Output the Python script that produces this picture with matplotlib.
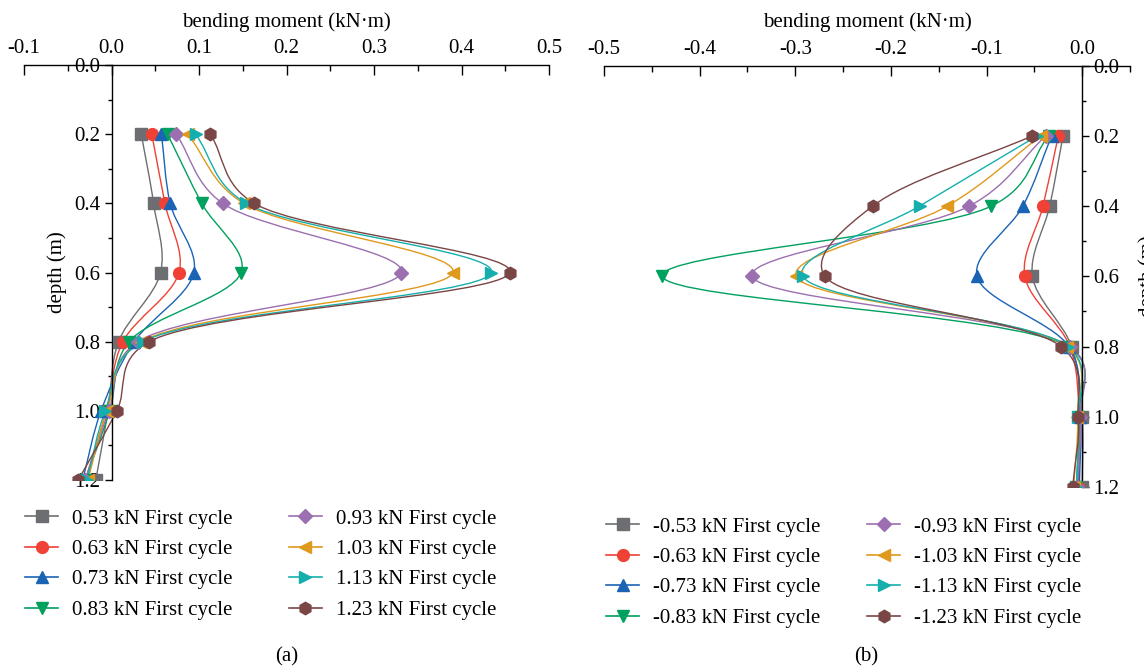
import numpy as np
import matplotlib
matplotlib.use("Agg")
import matplotlib.pyplot as plt
from matplotlib.path import Path
from matplotlib.patches import PathPatch
from matplotlib.lines import Line2D

plt.rcParams['font.family'] = ['Liberation Serif', 'DejaVu Serif']
plt.rcParams['axes.unicode_minus'] = False

# depth of the gauges (m)
depth = [0.2, 0.4, 0.6, 0.8, 1.0, 1.2]

# (a) positive loading, bending moment (kN*m)
pos_053 = [0.034, 0.048, 0.056, 0.008, -0.004, -0.018]
pos_063 = [0.046, 0.061, 0.077, 0.013, -0.006, -0.030]
pos_073 = [0.057, 0.067, 0.094, 0.026, -0.012, -0.033]
pos_083 = [0.064, 0.103, 0.148, 0.020, -0.002, -0.030]
pos_093 = [0.074, 0.127, 0.331, 0.030, -0.003, -0.030]
pos_103 = [0.087, 0.151, 0.390, 0.034, -0.005, -0.027]
pos_113 = [0.096, 0.154, 0.434, 0.036, -0.007, -0.028]
pos_123 = [0.113, 0.163, 0.455, 0.043, 0.006, -0.038]

# (b) negative loading
neg_053 = [-0.020, -0.034, -0.052, -0.011, 0.000, 0.000]
neg_063 = [-0.025, -0.041, -0.060, -0.013, -0.003, -0.004]
neg_073 = [-0.032, -0.062, -0.110, -0.014, -0.002, -0.003]
neg_083 = [-0.035, -0.095, -0.439, -0.015, -0.004, -0.006]
neg_093 = [-0.038, -0.118, -0.345, -0.013, -0.002, -0.005]
neg_103 = [-0.043, -0.141, -0.299, -0.016, -0.005, -0.009]
neg_113 = [-0.047, -0.170, -0.292, -0.015, -0.004, -0.006]
neg_123 = [-0.052, -0.219, -0.269, -0.022, -0.004, -0.010]

loads_pos = ["0.53", "0.63", "0.73", "0.83", "0.93", "1.03", "1.13", "1.23"]
loads_neg = ["-0.53", "-0.63", "-0.73", "-0.83", "-0.93", "-1.03", "-1.13", "-1.23"]

series_pos = [pos_053, pos_063, pos_073, pos_083, pos_093, pos_103, pos_113, pos_123]
series_neg = [neg_053, neg_063, neg_073, neg_083, neg_093, neg_103, neg_113, neg_123]

xticks_pos = [-0.1, 0.0, 0.1, 0.2, 0.3, 0.4, 0.5]
xticks_neg = [-0.5, -0.4, -0.3, -0.2, -0.1, 0.0]
yticks = [0.0, 0.2, 0.4, 0.6, 0.8, 1.0, 1.2]

colors = ['#6d6e71', '#ef4136', '#1a63b5', '#00a05e', '#9b6fb0', '#df991c', '#14afac', '#7a4545']
markers = ['s', 'o', '^', 'v', 'D', '<', '>', 'h']
msizes = [8, 8.5, 9, 9, 7.5, 9, 9, 9]

FS = 15
W, H = 11.44, 6.69


def smooth_path(x, y, sx, sy, alpha=0.3):
    # catmull-rom curve (screen space) through the points, as bezier segments
    P = np.column_stack([np.asarray(x, float) * sx, np.asarray(y, float) * sy])
    n = len(P) - 1
    d = np.linalg.norm(np.diff(P, axis=0), axis=1) ** alpha
    D = np.zeros_like(P)
    for i in range(1, n):
        D[i] = ((P[i] - P[i - 1]) / d[i - 1]
                - (P[i + 1] - P[i - 1]) / (d[i - 1] + d[i])
                + (P[i + 1] - P[i]) / d[i])
    D[0] = (P[1] - P[0]) / d[0]
    D[n] = (P[n] - P[n - 1]) / d[n - 1]
    verts = [P[0]]
    codes = [Path.MOVETO]
    for i in range(n):
        verts += [P[i] + D[i] * d[i] / 3, P[i + 1] - D[i + 1] * d[i] / 3, P[i + 1]]
        codes += [Path.CURVE4] * 3
    verts = np.array(verts) / [sx, sy]
    return Path(verts, codes)


def draw_panel(ax, series, xticks, xlim, yside):
    pos = ax.get_position()
    sx = pos.width * W * 100 / (xlim[1] - xlim[0])
    sy = pos.height * H * 100 / 1.2
    for vals, c in zip(series, colors):
        ax.add_patch(PathPatch(smooth_path(vals, depth, sx, sy), facecolor='none',
                               edgecolor=c, lw=1.0, zorder=2))
    for vals, c, m, ms in zip(series, colors, markers, msizes):
        ax.plot(vals, depth, ls='none', marker=m, ms=ms, color=c, mec=c, zorder=3)
    for sp in ['bottom', 'right', 'left']:
        ax.spines[sp].set_visible(False)
    ax.spines[yside].set_visible(True)
    ax.spines[yside].set_position(('data', 0))
    for sp in ax.spines.values():
        sp.set_linewidth(1.0)
    ax.xaxis.tick_top()
    ax.xaxis.set_label_position('top')
    ax.set_xlabel('bending moment (kN\u00b7m)', fontsize=FS, labelpad=9)
    ax.set_xticks(xticks)
    ax.set_xticks(np.arange(xlim[0], xlim[1] + 1e-6, 0.05), minor=True)
    ax.xaxis.set_major_formatter(plt.FormatStrFormatter('%.1f'))
    ax.tick_params(axis='x', which='major', direction='in', length=7, width=1,
                   labelsize=FS, pad=5)
    ax.tick_params(axis='x', which='minor', direction='in', length=4, width=1)
    ax.set_yticks(yticks)
    ax.set_yticks([0.1, 0.3, 0.5, 0.7, 0.9, 1.1], minor=True)
    ax.yaxis.set_major_formatter(plt.FormatStrFormatter('%.1f'))
    if yside == 'right':
        ax.yaxis.tick_right()
        ax.yaxis.set_label_position('right')
    else:
        ax.yaxis.tick_left()
    ax.tick_params(axis='y', which='major', direction='out', length=5, width=1,
                   labelsize=FS, pad=3)
    ax.tick_params(axis='y', which='minor', direction='out', length=3, width=1)
    ax.set_ylabel('depth (m)', fontsize=FS)
    ax.set_xlim(*xlim)
    ax.set_ylim(1.2, 0)


fig = plt.figure(figsize=(W, H), dpi=100)
ax1 = fig.add_axes([0.021, 0.2825, 0.459, 0.6203])
ax2 = fig.add_axes([0.528, 0.2720, 0.4598, 0.6300])

draw_panel(ax1, series_pos, xticks_pos, (-0.1, 0.5), 'left')
draw_panel(ax2, series_neg, xticks_neg, (-0.5, 0.05), 'right')
ax1.yaxis.set_label_coords(0.081, 0.5)
ax2.yaxis.set_label_coords(1.015, 0.5)


def make_legend(ax, loads, anchor, colsp):
    handles = [Line2D([], [], color=c, marker=m, ms=ms, lw=1.2)
               for c, m, ms in zip(colors, markers, msizes)]
    names = [f"{v} kN First cycle" for v in loads]
    ax.legend(handles, names, loc='upper left', bbox_to_anchor=anchor,
              bbox_transform=fig.transFigure, ncol=2, frameon=False,
              fontsize=FS, handlelength=1.6, handletextpad=0.65,
              columnspacing=colsp, labelspacing=0.52, borderaxespad=0, borderpad=0)


make_legend(ax1, loads_pos, (25 / 1144, 1 - 509 / 669), 2.7)
make_legend(ax2, loads_neg, (606 / 1144, 1 - 517 / 669), 2.25)

fig.text(287 / 1144, 1 - 657 / 669, '(a)', ha='center', va='center', fontsize=FS)
fig.text(866 / 1144, 1 - 657 / 669, '(b)', ha='center', va='center', fontsize=FS)

fig.savefig('out.png', dpi=100)
